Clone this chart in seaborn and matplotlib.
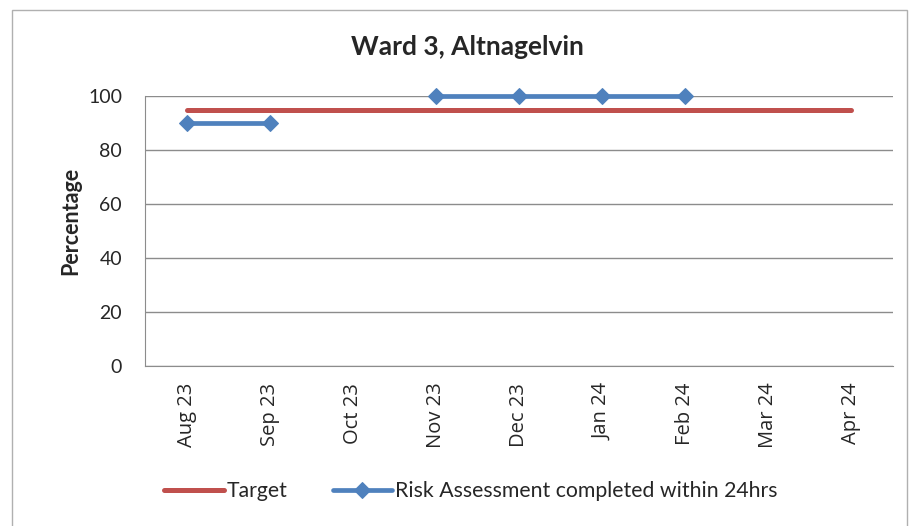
import numpy as np
import pandas as pd
import matplotlib
matplotlib.use("Agg")
import matplotlib.pyplot as plt
import seaborn as sns
from matplotlib.patches import Rectangle

months = ["Aug 23", "Sep 23", "Oct 23", "Nov 23", "Dec 23", "Jan 24", "Feb 24", "Mar 24", "Apr 24"]
target = [95, 95, 95, 95, 95, 95, 95, 95, 95]
risk = [90, 90, np.nan, 100, 100, 100, 100, np.nan, np.nan]

sns.set_style("white")
plt.rcParams["font.family"] = ["Lato", "DejaVu Sans"]

df = pd.DataFrame({"x": np.arange(len(months)), "month": months, "target": target, "risk": risk})
# split the risk series into contiguous runs so the gaps stay gaps
df["seg"] = df["risk"].isna().cumsum()
runs = df.dropna(subset=["risk"])

fig = plt.figure(figsize=(9.09, 5.26), dpi=100)
fig.patches.append(Rectangle((12 / 909, -0.1), 895 / 909, 1.1 - 10 / 526, transform=fig.transFigure,
                             fill=False, edgecolor="#b0b0b0", linewidth=1))
ax = fig.add_axes([145 / 909, 1 - 366 / 526, 748 / 909, 270 / 526])

red = "#C0504D"
blue = "#4F81BD"
sns.lineplot(data=df, x="x", y="target", ax=ax, color=red, linewidth=3.6, label="Target",
             solid_capstyle="round")
first = True
for _, g in runs.groupby("seg"):
    sns.lineplot(data=g, x="x", y="risk", ax=ax, color=blue, linewidth=3.4, marker="D",
                 markersize=8.5, markeredgecolor=blue, clip_on=False,
                 label="Risk Assessment completed within 24hrs" if first else None)
    first = False

ax.set_xlim(-0.5, len(months) - 0.5)
ax.set_ylim(0, 100)
ax.set_yticks(range(0, 101, 20))
ax.yaxis.grid(True, color="#8c8c8c", linewidth=1)
ax.set_axisbelow(True)
ax.set_xticks(np.arange(-0.5, len(months), 1.0))
ax.set_xticklabels([])
ax.set_xticks(np.arange(len(months)), minor=True)
ax.set_xticklabels(months, minor=True, rotation=90)
for lab in ax.get_xticklabels(minor=True):
    lab.set_fontfamily(["Open Sans", "DejaVu Sans"])
    lab.set_fontsize(14.5)
ax.tick_params(axis="x", which="minor", length=0, pad=12)
ax.tick_params(axis="x", which="major", length=6, color="#8c8c8c", direction="out")
ax.tick_params(axis="y", length=6.5, color="#8c8c8c", direction="out", labelsize=14, pad=10)
for s in ["top", "right"]:
    ax.spines[s].set_visible(False)
for s in ["left", "bottom"]:
    ax.spines[s].set_color("#8c8c8c")
ax.set_xlabel("")
ax.set_ylabel("")
fig.text(71 / 909, 1 - 221 / 526, "Percentage", rotation=90, ha="center", va="center",
         fontsize=15.5, fontweight="bold")
fig.text(467 / 909, 1 - 47 / 526, "Ward 3, Altnagelvin", ha="center", va="center",
         fontsize=19, fontweight="bold")

ax.legend(loc="center", bbox_to_anchor=(471 / 909, 35 / 526), bbox_transform=fig.transFigure,
          ncol=2, frameon=False, fontsize=15.3, handlelength=2.8, columnspacing=2.1,
          handletextpad=0.15)

fig.savefig("out.png", dpi=100)
